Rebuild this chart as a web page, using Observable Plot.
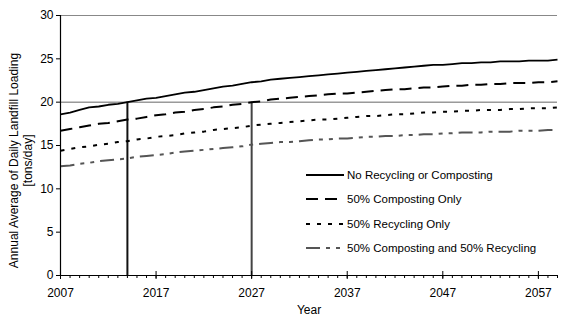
<!DOCTYPE html>
<html><head><meta charset="utf-8">
<script src="https://cdn.jsdelivr.net/npm/d3@7"></script>
<script src="https://cdn.jsdelivr.net/npm/@observablehq/plot@0.6"></script>
<style>
body{margin:0;background:#fff;font-family:"Liberation Sans",Arial,sans-serif;}
#wrap{position:relative;width:561px;height:318px;}
#legend{position:absolute;left:305px;top:163px;font-size:11.5px;color:#000;}
.row{height:24.3px;display:flex;align-items:center;}
.row svg{margin-right:2px;}
</style></head>
<body><div id="wrap"><div id="legend"></div></div>
<script>
const years = d3.range(2007, 2060);
const noRecycling = [18.6,18.8,19.1,19.4,19.5,19.7,19.8,20.0,20.2,20.4,20.5,20.7,20.9,21.1,21.2,21.4,21.6,21.8,21.9,22.1,22.3,22.4,22.6,22.7,22.8,22.9,23.0,23.1,23.2,23.3,23.4,23.5,23.6,23.7,23.8,23.9,24.0,24.1,24.2,24.3,24.3,24.4,24.5,24.5,24.6,24.6,24.7,24.7,24.7,24.8,24.8,24.8,24.9];
const compostingOnly = [16.7,16.9,17.1,17.3,17.5,17.6,17.8,18.0,18.1,18.3,18.5,18.6,18.8,18.9,19.1,19.2,19.4,19.5,19.7,19.8,20.0,20.1,20.3,20.4,20.5,20.6,20.7,20.8,20.9,21.0,21.0,21.1,21.2,21.3,21.4,21.5,21.5,21.6,21.7,21.7,21.8,21.9,21.9,22.0,22.0,22.1,22.1,22.2,22.2,22.2,22.3,22.3,22.4];
const recyclingOnly = [14.4,14.6,14.8,14.9,15.1,15.2,15.4,15.5,15.7,15.8,16.0,16.1,16.2,16.4,16.5,16.6,16.8,16.9,17.0,17.1,17.3,17.4,17.5,17.6,17.7,17.8,17.9,18.0,18.0,18.1,18.2,18.3,18.4,18.4,18.5,18.6,18.6,18.7,18.8,18.8,18.9,18.9,19.0,19.0,19.1,19.1,19.1,19.2,19.2,19.3,19.3,19.3,19.4];
const compostAndRecycle = [12.6,12.7,12.9,13.0,13.2,13.3,13.4,13.5,13.7,13.8,13.9,14.0,14.2,14.3,14.4,14.5,14.6,14.7,14.8,14.9,15.1,15.2,15.3,15.4,15.4,15.5,15.6,15.7,15.7,15.8,15.8,15.9,16.0,16.0,16.1,16.1,16.2,16.2,16.3,16.3,16.4,16.4,16.5,16.5,16.5,16.6,16.6,16.6,16.7,16.7,16.7,16.8,16.8];
const seriesNames = ["No Recycling or Composting","50% Composting Only","50% Recycling Only","50% Composting and 50% Recycling"];
const seriesValues = [noRecycling, compostingOnly, recyclingOnly, compostAndRecycle];
const seriesStyles = [
  {stroke:"#000", dash:null, width:1.8},
  {stroke:"#000", dash:"12,7", width:2},
  {stroke:"#000", dash:"4,7", width:2},
  {stroke:"#555", dash:"14,6,4,6,4,6", width:2}
];
const majorTicks = [2007,2017,2027,2037,2047,2057];
const yTicks = [0,5,10,15,20,25,30];
const markerYears = [2014, 2027];
const targetLevel = 20;

const lineMarks = seriesValues.map((vals, i) => Plot.line(years.map((y,j)=>({year:y, v:vals[j]})), {
  x:"year", y:"v", stroke: seriesStyles[i].stroke, strokeWidth: seriesStyles[i].width,
  strokeDasharray: seriesStyles[i].dash, strokeLinecap:"butt"
}));

const chart = Plot.plot({
  width:561, height:318,
  marginLeft:60, marginRight:4, marginTop:15, marginBottom:43,
  style:{fontFamily:'"Liberation Sans",Arial,sans-serif', fontSize:"12px", color:"#000", background:"#fff"},
  x:{domain:[2007,2059]},
  y:{domain:[0,30]},
  marks:[
    Plot.ruleY([30], {stroke:"#888", strokeWidth:1}),
    Plot.ruleY([targetLevel], {stroke:"#666", strokeWidth:1}),
    Plot.ruleX(markerYears, {y1:0, y2:targetLevel, stroke:(d,i)=> i===0 ? "#111" : "#444", strokeWidth:2}),
    ...lineMarks,
    Plot.axisY({ticks:yTicks, tickSize:4, tickPadding:3, label:null, fontSize:12}),
    Plot.axisX({ticks:years, tickSize:3, tickFormat:()=>"", label:null}),
    Plot.axisX({ticks:majorTicks, tickSize:4, tickPadding:9, tickFormat:d=>String(d), label:null, fontSize:12}),
    Plot.axisX({ticks:majorTicks, tickSize:-4, tickFormat:()=>"", label:null}),
    Plot.ruleX([2007], {stroke:"#000", strokeWidth:1.2}),
    Plot.ruleY([0], {stroke:"#000", strokeWidth:1.2}),
    Plot.text(["Year"], {frameAnchor:"bottom", dy:38, fontSize:12}),
    Plot.text(["Annual Average of Daily Landfill Loading"], {frameAnchor:"left", dx:-46, dy:15, rotate:-90, textAnchor:"middle", fontSize:12}),
    Plot.text(["[tons/day]"], {frameAnchor:"left", dx:-32, dy:15, rotate:-90, textAnchor:"middle", fontSize:12})
  ]
});
document.getElementById("wrap").prepend(chart);

const legend = d3.select("#legend");
seriesNames.forEach((name,i)=>{
  const row = legend.append("div").attr("class","row");
  const s = row.append("svg").attr("width",40).attr("height",10);
  s.append("line").attr("x1",1).attr("x2",39).attr("y1",5).attr("y2",5)
    .attr("stroke",seriesStyles[i].stroke).attr("stroke-width",seriesStyles[i].width)
    .attr("stroke-dasharray",seriesStyles[i].dash);
  row.append("span").text(name);
});
</script></body></html>
